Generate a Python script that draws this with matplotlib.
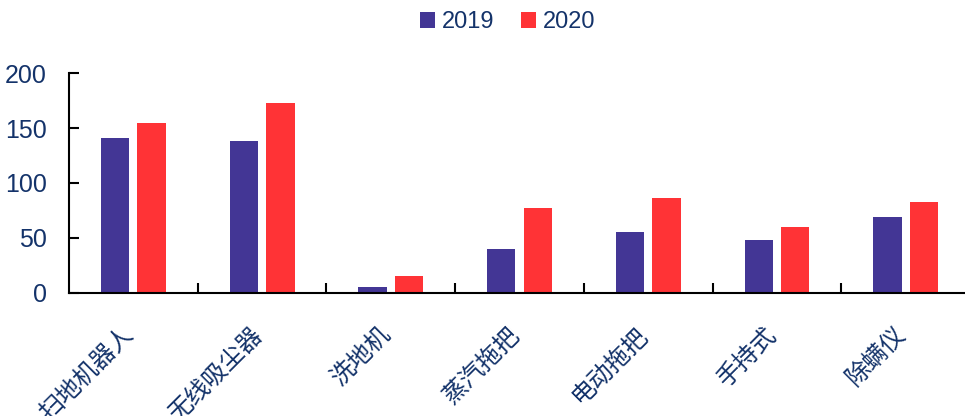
import matplotlib

matplotlib.use("Agg")
import matplotlib.pyplot as plt
import numpy as np

plt.rcParams["font.family"] = ["Liberation Sans", "Noto Sans CJK SC", "DejaVu Sans"]

# ── Data
categories = ["扫地机器人", "无线吸尘器", "洗地机", "蒸汽拖把", "电动拖把", "手持式", "除螨仪"]
sales_2019 = [141, 138, 5, 40, 55, 48, 69]
sales_2020 = [155, 173, 15, 77, 86, 60, 83]
series_names = ["2019", "2020"]

C19 = "#433695"
C20 = "#FF3336"
TXT = "#14336A"

fig = plt.figure(figsize=(9.65, 4.16), dpi=100)
ax = fig.add_axes([0.0715, 0.2957, 0.9285, 0.5288])

x = np.arange(len(categories))
w = 0.22
ax.bar(x - 0.142, sales_2019, w, color=C19, label=series_names[0])
ax.bar(x + 0.142, sales_2020, w, color=C20, label=series_names[1])

ax.set_xlim(-0.5, 6.46)
ax.set_ylim(0, 200)
ax.set_yticks([0, 50, 100, 150, 200])

for s in ["top", "right"]:
    ax.spines[s].set_visible(False)
for s in ["left", "bottom"]:
    ax.spines[s].set_linewidth(1.5)
    ax.spines[s].set_color("black")

# category boundary ticks on x, labels at centers
ax.set_xticks(np.arange(0.5, len(categories) - 0.5, 1))
ax.set_xticklabels([])
ax.tick_params(axis="x", direction="in", length=7, width=1.5)
ax.set_xticks(x + 0.04, minor=True)
ax.set_xticklabels(categories, minor=True, rotation=45, ha="right", va="top",
                   fontsize=17.5, color=TXT, family=["Noto Sans CJK SC"])
ax.tick_params(axis="x", which="minor", length=0, pad=21)

ax.tick_params(axis="y", direction="in", length=7, width=1.5, labelsize=18,
               labelcolor=TXT, pad=16)

leg = fig.legend(loc="center", bbox_to_anchor=(0.526, 0.947), ncol=2, frameon=False,
                 fontsize=17, handlelength=0.65, handleheight=0.65, handletextpad=0.3,
                 columnspacing=1.1)
for t in leg.get_texts():
    t.set_color(TXT)

fig.savefig("out.png", dpi=100)
